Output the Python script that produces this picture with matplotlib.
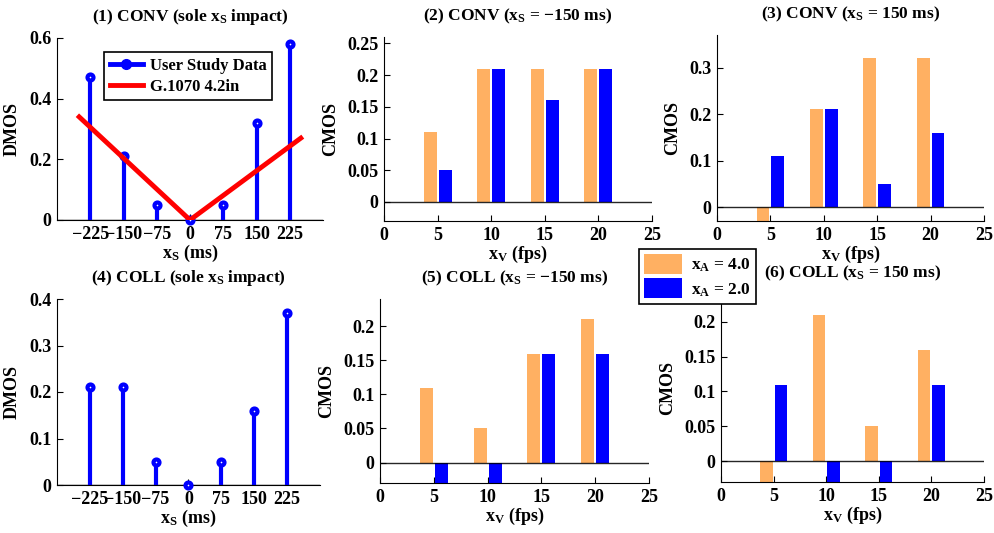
import matplotlib
matplotlib.use("Agg")
import matplotlib.pyplot as plt
from matplotlib.patches import Patch
from matplotlib.lines import Line2D

plt.rcParams["font.family"] = ["Liberation Serif", "DejaVu Serif"]
plt.rcParams["font.weight"] = "bold"
plt.rcParams["mathtext.fontset"] = "custom"
plt.rcParams["mathtext.rm"] = "Liberation Serif:bold"
plt.rcParams["mathtext.it"] = "Liberation Serif:bold"
plt.rcParams["mathtext.bf"] = "Liberation Serif:bold"

# ── Data ──────────────────────────────────────────────────────────────────────
xs_ms = [-225, -150, -75, 0, 75, 150, 225]
conv_dmos = [0.47, 0.21, 0.05, 0.0, 0.05, 0.32, 0.58]
coll_dmos = [0.21, 0.21, 0.05, 0.0, 0.05, 0.16, 0.37]
g1070_x = [-250, 0, 250]
g1070_y = [0.34, 0.0, 0.27]

xv_fps = [5, 10, 15, 20]
conv_m150_a4 = [0.11, 0.21, 0.21, 0.21]
conv_m150_a2 = [0.05, 0.21, 0.16, 0.21]
conv_p150_a4 = [-0.05, 0.21, 0.32, 0.32]
conv_p150_a2 = [0.11, 0.21, 0.05, 0.16]
coll_m150_a4 = [0.11, 0.05, 0.16, 0.21]
coll_m150_a2 = [-0.05, -0.05, 0.16, 0.16]
coll_p150_a4 = [-0.05, 0.21, 0.05, 0.16]
coll_p150_a2 = [0.11, -0.05, -0.05, 0.11]

ORANGE = "#ffb062"
BLUE = "#0000ff"
FS_TICK = 13
FS_LAB = 13
FS_TITLE = 12.5
FS_LEG = 12.5

fig = plt.figure(figsize=(9.95, 5.33), dpi=100)
W, H = 995.0, 533.0


def add_ax(left, top, right, bottom):
    return fig.add_axes([left / W, 1 - bottom / H, (right - left) / W, (bottom - top) / H])


def style(ax):
    ax.spines["top"].set_visible(False)
    ax.spines["right"].set_visible(False)
    ax.tick_params(direction="in", labelsize=FS_TICK, length=4, width=0.8, pad=4)
    for lab in ax.get_xticklabels() + ax.get_yticklabels():
        lab.set_fontweight("bold")


def stem_panel(ax, vals, title, ylim, yticks):
    ax.axhline(0, color="black", lw=1.0, zorder=1)
    for x, v in zip(xs_ms, vals):
        ax.plot([x, x], [0, v], color=BLUE, lw=3.0, zorder=2, solid_capstyle="butt")
    ax.plot(xs_ms, vals, linestyle="none", marker="o", ms=4.3, mfc="white",
            mec=BLUE, mew=3.0, zorder=3, clip_on=False)
    ax.set_xlim(-300, 300)
    ax.set_ylim(*ylim)
    ax.set_xticks(xs_ms)
    ax.set_yticks(yticks)
    ax.set_yticklabels([f"{t:g}" for t in yticks])
    ax.set_ylabel("DMOS", fontsize=FS_LAB, fontweight="bold", labelpad=6)
    ax.set_xlabel(r"x$_\mathrm{S}$ (ms)", fontsize=FS_LAB, fontweight="bold", labelpad=0)
    ax.set_title(title, fontsize=FS_TITLE, fontweight="bold", pad=12)
    style(ax)


def bar_panel(ax, a4, a2, title, ylim, yticks):
    ax.bar([x - 0.7 for x in xv_fps], a4, width=1.2, color=ORANGE, zorder=2)
    ax.bar([x + 0.7 for x in xv_fps], a2, width=1.2, color=BLUE, zorder=2)
    ax.axhline(0, color="black", lw=1.0, alpha=0.85, zorder=3)
    ax.set_xlim(0, 25)
    ax.set_ylim(*ylim)
    ax.set_xticks([0, 5, 10, 15, 20, 25])
    ax.set_yticks(yticks)
    ax.set_yticklabels([f"{t:g}" for t in yticks])
    ax.set_ylabel("CMOS", fontsize=FS_LAB, fontweight="bold", labelpad=6)
    ax.set_xlabel(r"x$_\mathrm{V}$ (fps)", fontsize=FS_LAB, fontweight="bold", labelpad=0)
    ax.set_title(title, fontsize=FS_TITLE, fontweight="bold", pad=12)
    style(ax)


# ── Panels ────────────────────────────────────────────────────────────────────
ax1 = add_ax(57, 38, 323, 220)
stem_panel(ax1, conv_dmos, r"(1) CONV (sole x$_\mathrm{S}$ impact)", (0, 0.6), [0, 0.2, 0.4, 0.6])
ax1.plot(g1070_x, g1070_y, color="red", lw=3.5, zorder=4)
handles = [
    Line2D([0], [0], color=BLUE, lw=3.5, marker="o", ms=7, mfc=BLUE, mec=BLUE),
    Line2D([0], [0], color="red", lw=3.5),
]
leg = ax1.legend(handles, ["User Study Data", "G.1070 4.2in"], loc="upper left",
                 bbox_to_anchor=(0.145, 0.97), fancybox=False, framealpha=1,
                 edgecolor="black", prop={"weight": "bold", "size": 12},
                 handlelength=2.0, borderpad=0.35, labelspacing=0.3, handletextpad=0.4)
leg.get_frame().set_linewidth(1.2)

ax2 = add_ax(384, 37, 652, 221)
bar_panel(ax2, conv_m150_a4, conv_m150_a2, r"(2) CONV (x$_\mathrm{S}$ = $-$150 ms)",
          (-0.03, 0.26), [0, 0.05, 0.1, 0.15, 0.2, 0.25])

ax3 = add_ax(717, 35, 984, 221)
bar_panel(ax3, conv_p150_a4, conv_p150_a2, r"(3) CONV (x$_\mathrm{S}$ = 150 ms)",
          (-0.03, 0.37), [0, 0.1, 0.2, 0.3])

ax4 = add_ax(57, 299, 320, 485)
stem_panel(ax4, coll_dmos, r"(4) COLL (sole x$_\mathrm{S}$ impact)", (0, 0.4), [0, 0.1, 0.2, 0.3, 0.4])

ax5 = add_ax(380, 299, 649, 483)
bar_panel(ax5, coll_m150_a4, coll_m150_a2, r"(5) COLL (x$_\mathrm{S}$ = $-$150 ms)",
          (-0.03, 0.24), [0, 0.05, 0.1, 0.15, 0.2])

ax6 = add_ax(721, 294, 984, 482)
bar_panel(ax6, coll_p150_a4, coll_p150_a2, r"(6) COLL (x$_\mathrm{S}$ = 150 ms)",
          (-0.03, 0.24), [0, 0.05, 0.1, 0.15, 0.2])

# Shared legend for the bar panels
bar_handles = [Patch(facecolor=ORANGE), Patch(facecolor=BLUE)]
bleg = fig.legend(bar_handles, [r"x$_\mathrm{A}$ = 4.0", r"x$_\mathrm{A}$ = 2.0"],
                  loc="upper left", bbox_to_anchor=(630 / W, 1 - 240 / H),
                  fancybox=False, framealpha=1, edgecolor="black",
                  prop={"weight": "bold", "size": FS_LEG}, handlelength=2.2,
                  handleheight=1.4, borderpad=0.3, labelspacing=0.25, handletextpad=0.5)
bleg.get_frame().set_linewidth(1.2)
bleg.set_zorder(10)

fig.savefig("out.png", dpi=100, facecolor="white")
